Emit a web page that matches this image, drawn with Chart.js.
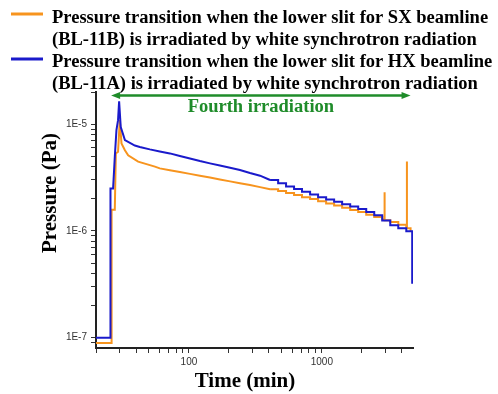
<!DOCTYPE html>
<html>
<head>
<meta charset="utf-8">
<script src="https://cdn.jsdelivr.net/npm/chart.js@4.4.1/dist/chart.umd.min.js"></script>
<style>
html,body{margin:0;padding:0;background:#fff;}
#wrap{position:relative;width:498px;height:394px;}
canvas{display:block;}
</style>
</head>
<body>
<div id="wrap"><canvas id="c" width="498" height="394"></canvas></div>
<script>
// ---------------- data ----------------
// HX beamline (BL-11A), blue: smooth part
const hxTime     = [20, 25.7, 25.7, 26.9, 27.7, 28.5, 29.3, 29.85, 30.7, 33.0, 39.2, 42.7, 50.8, 60.4, 71.9, 85.5, 101.8, 121, 144, 171, 204, 242, 288, 343, 408];
const hxPressure = [1e-7, 1e-7, 2.5e-6, 2.5e-6, 4.95e-6, 8.8e-6, 1.09e-5, 1.64e-5, 9.4e-6, 7.1e-6, 6.3e-6, 6.1e-6, 5.8e-6, 5.55e-6, 5.32e-6, 5.03e-6, 4.77e-6, 4.51e-6, 4.29e-6, 4.09e-6, 3.90e-6, 3.72e-6, 3.48e-6, 3.29e-6, 3.00e-6];
// HX beamline, stair-stepped late part
const hxTimeLate     = [408, 469, 538, 618, 709, 816, 937, 1077, 1237, 1421, 1634, 1877, 2157, 2478, 2846, 3272, 3758, 4318, 4783, 4783];
const hxPressureLate = [3.00e-6, 2.80e-6, 2.61e-6, 2.47e-6, 2.33e-6, 2.19e-6, 2.07e-6, 1.97e-6, 1.87e-6, 1.78e-6, 1.69e-6, 1.60e-6, 1.50e-6, 1.40e-6, 1.25e-6, 1.13e-6, 1.06e-6, 9.9e-7, 9.3e-7, 3.2e-7];

// SX beamline (BL-11B), orange: smooth part
const sxTime     = [20, 26.2, 26.2, 27.7, 28.2, 29.3, 30.2, 31.1, 33.0, 34.9, 41.5, 55.5, 60.4, 71.9, 85.5, 101.8, 121, 144, 171, 204, 242, 288, 343, 408];
const sxPressure = [8.9e-8, 8.9e-8, 1.58e-6, 1.58e-6, 5.3e-6, 5.5e-6, 1.09e-5, 6.6e-6, 5.7e-6, 5.1e-6, 4.45e-6, 4.0e-6, 3.85e-6, 3.70e-6, 3.56e-6, 3.42e-6, 3.29e-6, 3.16e-6, 3.03e-6, 2.91e-6, 2.80e-6, 2.69e-6, 2.57e-6, 2.45e-6];
// SX beamline, stair-stepped late part (with two spikes)
const sxTimeLate     = [408, 469, 538, 618, 709, 816, 937, 1077, 1237, 1421, 1634, 1877, 2157, 2478, 2846, 2965, 2966, 3272, 3758, 4318, 4365, 4366, 4650];
const sxPressureLate = [2.45e-6, 2.37e-6, 2.26e-6, 2.17e-6, 2.07e-6, 1.99e-6, 1.90e-6, 1.81e-6, 1.73e-6, 1.65e-6, 1.57e-6, 1.50e-6, 1.42e-6, 1.35e-6, 1.28e-6, 2.25e-6, 1.26e-6, 1.21e-6, 1.14e-6, 1.07e-6, 4.38e-6, 1.06e-6, 1.0e-6];

// axes
const xMin = 20, xMax = 4850;
const yMin = 8e-8, yMax = 2e-5;
const xTickValues = [20, 30, 40, 50, 60, 70, 80, 90, 100, 200, 300, 400, 500, 600, 700, 800, 900, 1000, 2000, 3000, 4000];
const xTickLabels = {100: '100', 1000: '1000'};
const yTickValues = [9e-8, 1e-7, 2e-7, 3e-7, 4e-7, 5e-7, 6e-7, 7e-7, 8e-7, 9e-7, 1e-6, 2e-6, 3e-6, 4e-6, 5e-6, 6e-6, 7e-6, 8e-6, 9e-6, 1e-5, 2e-5];
const yTickLabels = {'1e-7': '1E-7', '1e-6': '1E-6', '1e-5': '1E-5'};

// texts
const legendSX = ['Pressure transition when the lower slit for SX beamline', '(BL-11B) is irradiated by white synchrotron radiation'];
const legendHX = ['Pressure transition when the lower slit for HX beamline', '(BL-11A) is irradiated by white synchrotron radiation'];
const xTitle = 'Time (min)';
const yTitle = 'Pressure (Pa)';
const annotationText = 'Fourth irradiation';
const irradiationStart = 26, irradiationEnd = 4650, arrowPressure = 1.85e-5;

// ---------------- styles ----------------
const ORANGE = '#F7941E';
const BLUE = '#1A1ACB';
const GREEN = '#1F8C2A';
const SERIF = '"Liberation Serif", "Times New Roman", serif';

function pts(t, p) { return t.map((v, i) => ({x: v, y: p[i]})); }

const overlay = {
  id: 'overlay',
  afterDraw(chart) {
    const ctx = chart.ctx;
    const xs = chart.scales.x, ys = chart.scales.y;
    ctx.save();
    // legend
    ctx.lineWidth = 3;
    ctx.strokeStyle = ORANGE;
    ctx.beginPath(); ctx.moveTo(11, 14); ctx.lineTo(43, 14); ctx.stroke();
    ctx.strokeStyle = BLUE;
    ctx.beginPath(); ctx.moveTo(11, 59); ctx.lineTo(43, 59); ctx.stroke();
    ctx.fillStyle = '#000';
    ctx.font = 'bold 18.5px ' + SERIF;
    ctx.textAlign = 'left';
    ctx.textBaseline = 'alphabetic';
    ctx.fillText(legendSX[0], 52, 22.5);
    ctx.fillText(legendSX[1], 52, 44.8);
    ctx.fillText(legendHX[0], 52, 67);
    ctx.fillText(legendHX[1], 52, 89.3);

    // axis titles
    ctx.font = 'bold 21px ' + SERIF;
    ctx.textAlign = 'center';
    ctx.fillText(xTitle, 245, 386.5);
    ctx.save();
    ctx.translate(56, 193);
    ctx.rotate(-Math.PI / 2);
    ctx.fillText(yTitle, 0, 0);
    ctx.restore();

    // irradiation arrow
    const x1 = xs.getPixelForValue(irradiationStart);
    const x2 = xs.getPixelForValue(irradiationEnd);
    const y = ys.getPixelForValue(arrowPressure);
    ctx.strokeStyle = GREEN; ctx.fillStyle = GREEN; ctx.lineWidth = 2.5;
    ctx.beginPath(); ctx.moveTo(x1 + 6, y); ctx.lineTo(x2 - 6, y); ctx.stroke();
    ctx.beginPath(); ctx.moveTo(x1, y); ctx.lineTo(x1 + 9, y - 3.5); ctx.lineTo(x1 + 9, y + 3.5); ctx.closePath(); ctx.fill();
    ctx.beginPath(); ctx.moveTo(x2, y); ctx.lineTo(x2 - 9, y - 3.5); ctx.lineTo(x2 - 9, y + 3.5); ctx.closePath(); ctx.fill();
    ctx.font = 'bold 18.5px ' + SERIF;
    ctx.textAlign = 'center';
    ctx.fillText(annotationText, (x1 + x2) / 2, 112);
    ctx.restore();
  }
};

const commonLine = {pointRadius: 0, borderWidth: 2, tension: 0, fill: false};

new Chart(document.getElementById('c'), {
  type: 'line',
  data: {
    datasets: [
      Object.assign({label: 'HX', data: pts(hxTime, hxPressure), borderColor: BLUE, order: 0}, commonLine),
      Object.assign({label: 'HX late', data: pts(hxTimeLate, hxPressureLate), borderColor: BLUE, order: 0, stepped: true}, commonLine),
      Object.assign({label: 'SX', data: pts(sxTime, sxPressure), borderColor: ORANGE, order: 1}, commonLine),
      Object.assign({label: 'SX late', data: pts(sxTimeLate, sxPressureLate), borderColor: ORANGE, order: 1, stepped: true}, commonLine)
    ]
  },
  options: {
    responsive: false,
    animation: false,
    devicePixelRatio: 1,
    layout: {padding: {left: 0, right: 85, top: 92, bottom: 0}},
    plugins: {legend: {display: false}, tooltip: {enabled: false}},
    scales: {
      x: {
        type: 'logarithmic', min: xMin, max: xMax,
        afterFit: (s) => { s.height = 46; },
        afterBuildTicks: (s) => { s.ticks = xTickValues.map(v => ({value: v})); },
        grid: {drawOnChartArea: false, drawTicks: true, tickLength: 5, tickColor: '#333', tickWidth: 1},
        border: {display: true, color: '#222', width: 2},
        ticks: {
          autoSkip: false, maxRotation: 0, padding: 3,
          color: '#333', font: {family: '"Liberation Sans", Arial, sans-serif', size: 10},
          callback: (v) => xTickLabels[v] || ''
        }
      },
      y: {
        type: 'logarithmic', min: yMin, max: yMax,
        afterFit: (s) => { s.width = 96; },
        afterBuildTicks: (s) => { s.ticks = yTickValues.map(v => ({value: v})); },
        grid: {drawOnChartArea: false, drawTicks: true, tickLength: 5, tickColor: '#333', tickWidth: 1},
        border: {display: true, color: '#222', width: 2},
        ticks: {
          autoSkip: false, padding: 4,
          color: '#333', font: {family: '"Liberation Sans", Arial, sans-serif', size: 10},
          callback: (v) => yTickLabels[Number(v).toExponential(0).replace('e-', 'e-')] || ''
        }
      }
    }
  },
  plugins: [overlay]
});
</script>
</body>
</html>
